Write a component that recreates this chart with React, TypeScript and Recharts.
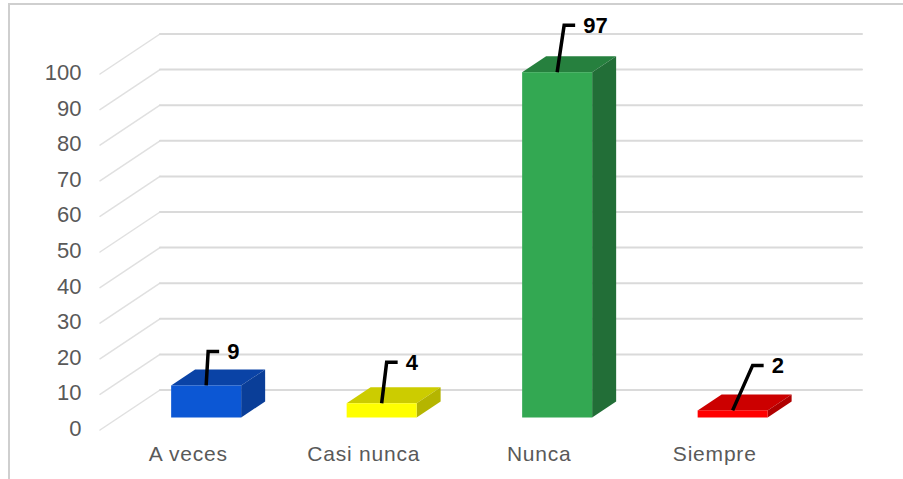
import { BarChart, Bar, XAxis, YAxis, CartesianGrid, LabelList } from "recharts";

const categories = ["A veces", "Casi nunca", "Nunca", "Siempre"];
const counts = [9, 4, 97, 2];
const yTicks = [0, 10, 20, 30, 40, 50, 60, 70, 80, 90, 100];

// front, top and side colour of each box
const faceColors = [
  ["#0c57d4", "#0a43a6", "#0a3e98"],
  ["#ffff00", "#cccc00", "#b5b500"],
  ["#33a852", "#26803e", "#226e37"],
  ["#ff0000", "#cc0000", "#b00000"],
];

// elbow of each label's leader line, relative to the top centre of the box
const leaderElbows = [
  [2, -34],
  [5, -41],
  [7, -47],
  [20, -45],
];

const data = categories.map((name, i) => ({ name, value: counts[i] }));

const BOX_DX = 24;
const BOX_DY = -16;
const FLOOR_FRONT = 12.5;
const WALL_BACK = -27.5;
const TEXT = "#595959";
const FONT = "'Liberation Sans', Arial, sans-serif";

function Box3D({ x, y, width, height, index }: any) {
  const [front, top, side] = faceColors[index];
  const r = x + width;
  const b = y + height;
  return (
    <g>
      <polygon
        points={`${x},${y} ${x + BOX_DX},${y + BOX_DY} ${r + BOX_DX},${y + BOX_DY} ${r},${y}`}
        fill={top}
      />
      <polygon
        points={`${r},${y} ${r + BOX_DX},${y + BOX_DY} ${r + BOX_DX},${b + BOX_DY} ${r},${b}`}
        fill={side}
      />
      <rect x={x} y={y} width={width} height={height} fill={front} />
    </g>
  );
}

// wall line plus the diagonal running along the side wall to the axis
function WallLine({ y1 }: any) {
  const back = y1 + WALL_BACK;
  return (
    <g fill="none" strokeLinecap="round">
      <path d={`M100 ${y1 + FLOOR_FRONT} L160 ${back}`} stroke="#e0e0e0" strokeWidth={1.5} />
      <path d={`M160 ${back} L862 ${back}`} stroke="#dadada" strokeWidth={2} />
    </g>
  );
}

function ValueTick({ y, payload }: any) {
  return (
    <text
      x={81.5}
      y={y + FLOOR_FRONT - 1.5}
      textAnchor="end"
      dominantBaseline="central"
      fontFamily={FONT}
      fontSize={22}
      fill={TEXT}
    >
      {payload.value}
    </text>
  );
}

function CategoryTick({ x, payload }: any) {
  return (
    <text
      x={x - 18}
      y={453}
      textAnchor="middle"
      dominantBaseline="central"
      fontFamily={FONT}
      fontSize={21}
      letterSpacing={0.8}
      fill={TEXT}
    >
      {payload.value}
    </text>
  );
}

function LeaderLabel({ x, y, width, value, index }: any) {
  const cx = x + width / 2;
  const [ex, ey] = leaderElbows[index];
  const ex2 = cx + ex;
  const ey2 = y + ey;
  return (
    <g>
      <path
        d={`M${cx} ${y} L${ex2} ${ey2} L${ex2 + 11} ${ey2}`}
        fill="none"
        stroke="#000"
        strokeWidth={3.5}
      />
      <text
        x={ex2 + 19}
        y={ey2}
        dominantBaseline="central"
        fontFamily={FONT}
        fontWeight="bold"
        fontSize={22}
        fill="#000"
      >
        {value}
      </text>
    </g>
  );
}

export default function App() {
  return (
    <div style={{ position: "absolute", left: 0, top: 0, width: 903, height: 479, background: "#fff", overflow: "hidden" }}>
      <div
        style={{
          position: "absolute",
          left: 8,
          top: 3,
          right: 0,
          bottom: 0,
          borderLeft: "2px solid #cfcfcf",
          borderTop: "2px solid #cfcfcf",
        }}
      />
      <BarChart
        width={903}
        height={479}
        data={data}
        margin={{ top: 61.5, right: 82.5, bottom: 31.5, left: 0 }}
        barCategoryGap="30%"
        style={{ position: "absolute", left: 0, top: 0 }}
      >
        <CartesianGrid vertical={false} horizontal={WallLine} />
        <XAxis dataKey="name" height={30} axisLine={false} tickLine={false} interval={0} tick={CategoryTick} />
        <YAxis
          width={118.5}
          domain={[0, 100]}
          ticks={yTicks}
          interval={0}
          axisLine={false}
          tickLine={false}
          tick={ValueTick}
        />
        <Bar dataKey="value" shape={Box3D} isAnimationActive={false}>
          <LabelList dataKey="value" content={LeaderLabel} />
        </Bar>
      </BarChart>
    </div>
  );
}
